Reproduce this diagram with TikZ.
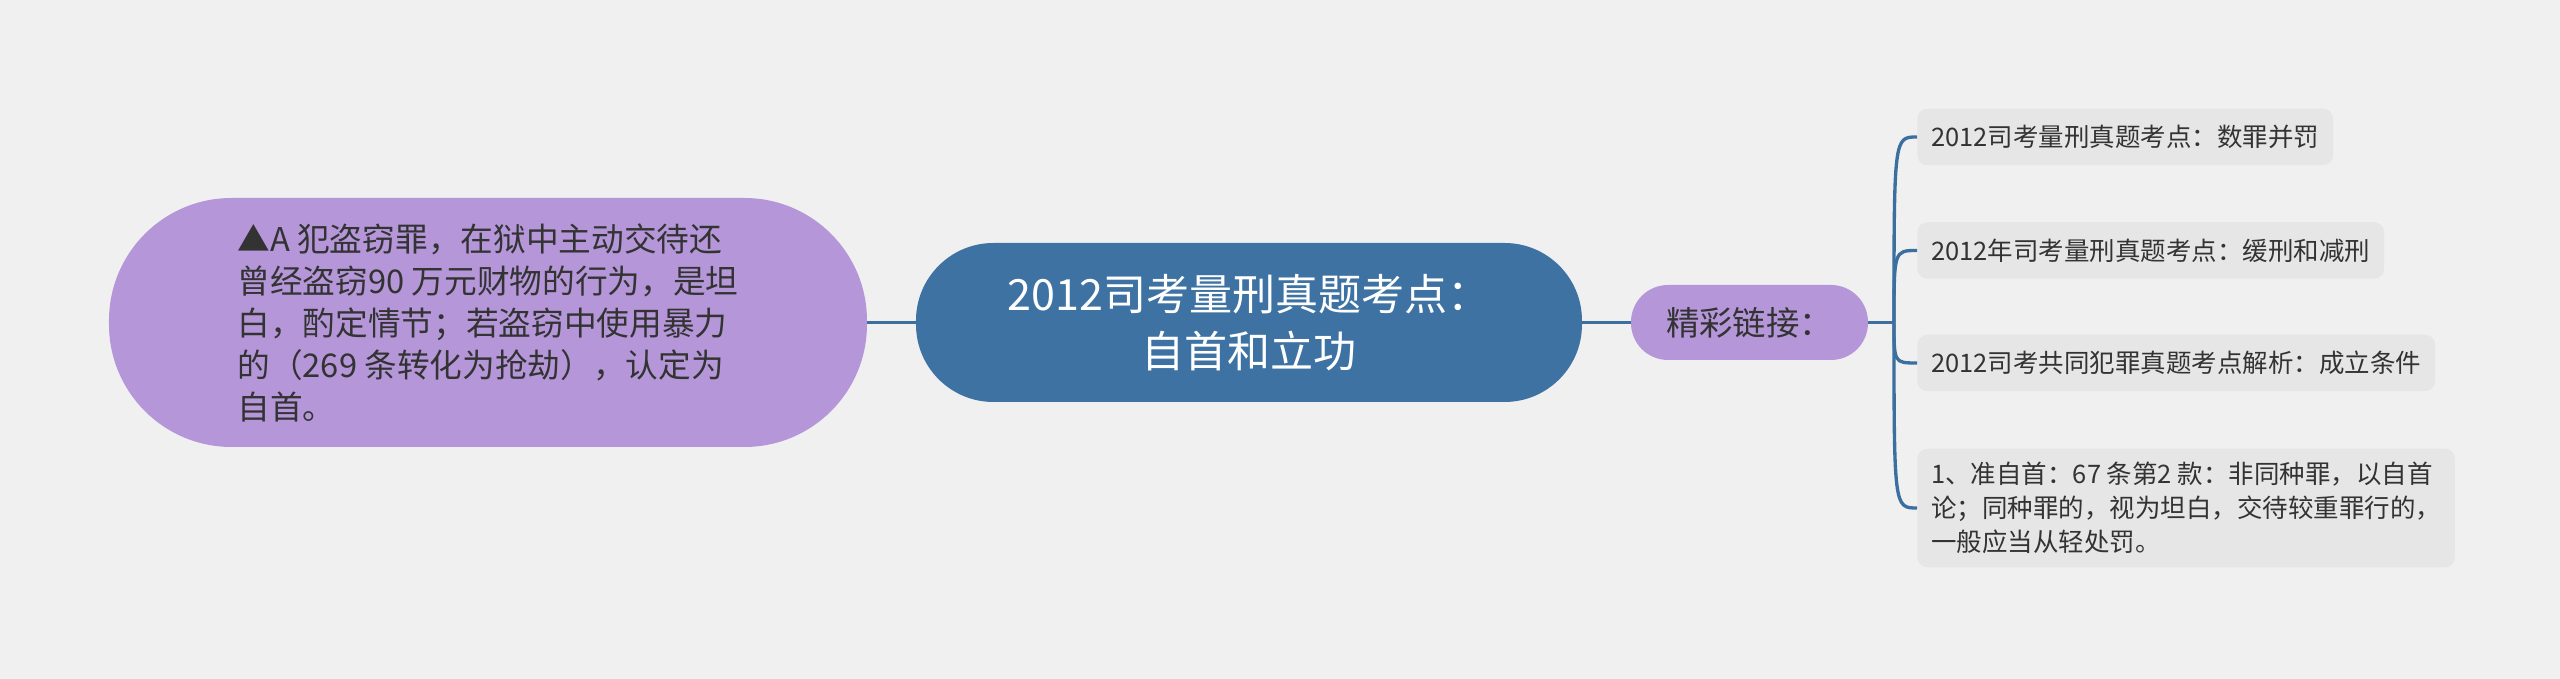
\documentclass[tikz,border=0pt]{standalone}
\usepackage{fontspec}
\setmainfont{Noto Sans CJK SC}
\usetikzlibrary{positioning}
\definecolor{canvas}{HTML}{F0F0F0}
\definecolor{topicblue}{HTML}{3D72A3}
\definecolor{lilac}{HTML}{B597D9}
\definecolor{leafgrey}{HTML}{E6E6E6}
\definecolor{inkgrey}{HTML}{333333}
\definecolor{linkblue}{HTML}{3B6F9F}
\tikzstyle{topic} = [rectangle, rounded corners=1.55cm, text centered, fill=topicblue, text=white, minimum width=13.32cm, minimum height=3.18cm, align=center, font=\fontsize{24.5pt}{32.4pt}\selectfont]
\tikzstyle{detail} = [rectangle, rounded corners=2.45cm, fill=lilac, text=inkgrey, minimum width=15.16cm, minimum height=4.98cm, align=left, font=\fontsize{18.6pt}{23.9pt}\selectfont]
\tikzstyle{hub} = [rectangle, rounded corners=0.74cm, text centered, fill=lilac, text=inkgrey, minimum width=4.74cm, minimum height=1.5cm, font=\fontsize{19pt}{24pt}\selectfont]
\tikzstyle{reading} = [rectangle, rounded corners=0.2cm, fill=leafgrey, text=inkgrey, inner xsep=0.28cm, inner ysep=0.27cm, minimum height=1.13cm, align=left, font=\fontsize{14.5pt}{19.3pt}\selectfont]
\tikzstyle{branchline} = [line width=1.9pt, draw=linkblue]

\begin{document}
\begin{tikzpicture}[node distance=2cm]

\fill [canvas] (-24.98,-7.13) rectangle (26.22,6.45);

\node (topic) [topic] {2012司考量刑真题考点：\\自首和立功};
\node (detail) [detail, left of=topic, xshift=-13.22cm] {▲A 犯盗窃罪，在狱中主动交待还\\曾经盗窃90 万元财物的行为，是坦\\白，酌定情节；若盗窃中使用暴力\\的（269 条转化为抢劫），认定为\\自首。};
\node (links) [hub, right of=topic, xshift=8.01cm] {精彩链接：};
\node (fork) [coordinate, right of=links, xshift=0.89cm] {};

\node (read1) [reading, right of=links, anchor=west, xshift=1.35cm, yshift=3.71cm] {2012司考量刑真题考点：数罪并罚};
\node (read2) [reading, right of=links, anchor=west, xshift=1.35cm, yshift=1.44cm] {2012年司考量刑真题考点：缓刑和减刑};
\node (read3) [reading, right of=links, anchor=west, xshift=1.35cm, yshift=-0.81cm] {2012司考共同犯罪真题考点解析：成立条件};
\node (read4) [reading, right of=links, anchor=west, xshift=1.35cm, yshift=-3.71cm] {1、准自首：67 条第2 款：非同种罪，以自首\\论；同种罪的，视为坦白，交待较重罪行的，\\一般应当从轻处罚。};

\draw [branchline] (topic) -- (detail);
\draw [branchline] (topic) -- (links);
\draw [branchline] (links) -- (fork);

\draw [branchline] (fork) .. controls (fork |- read1.west) .. (read1.west);
\draw [branchline] (fork) .. controls (fork |- read2.west) .. (read2.west);
\draw [branchline] (fork) .. controls (fork |- read3.west) .. (read3.west);
\draw [branchline] (fork) .. controls (fork |- read4.west) .. (read4.west);

\end{tikzpicture}
\end{document}
